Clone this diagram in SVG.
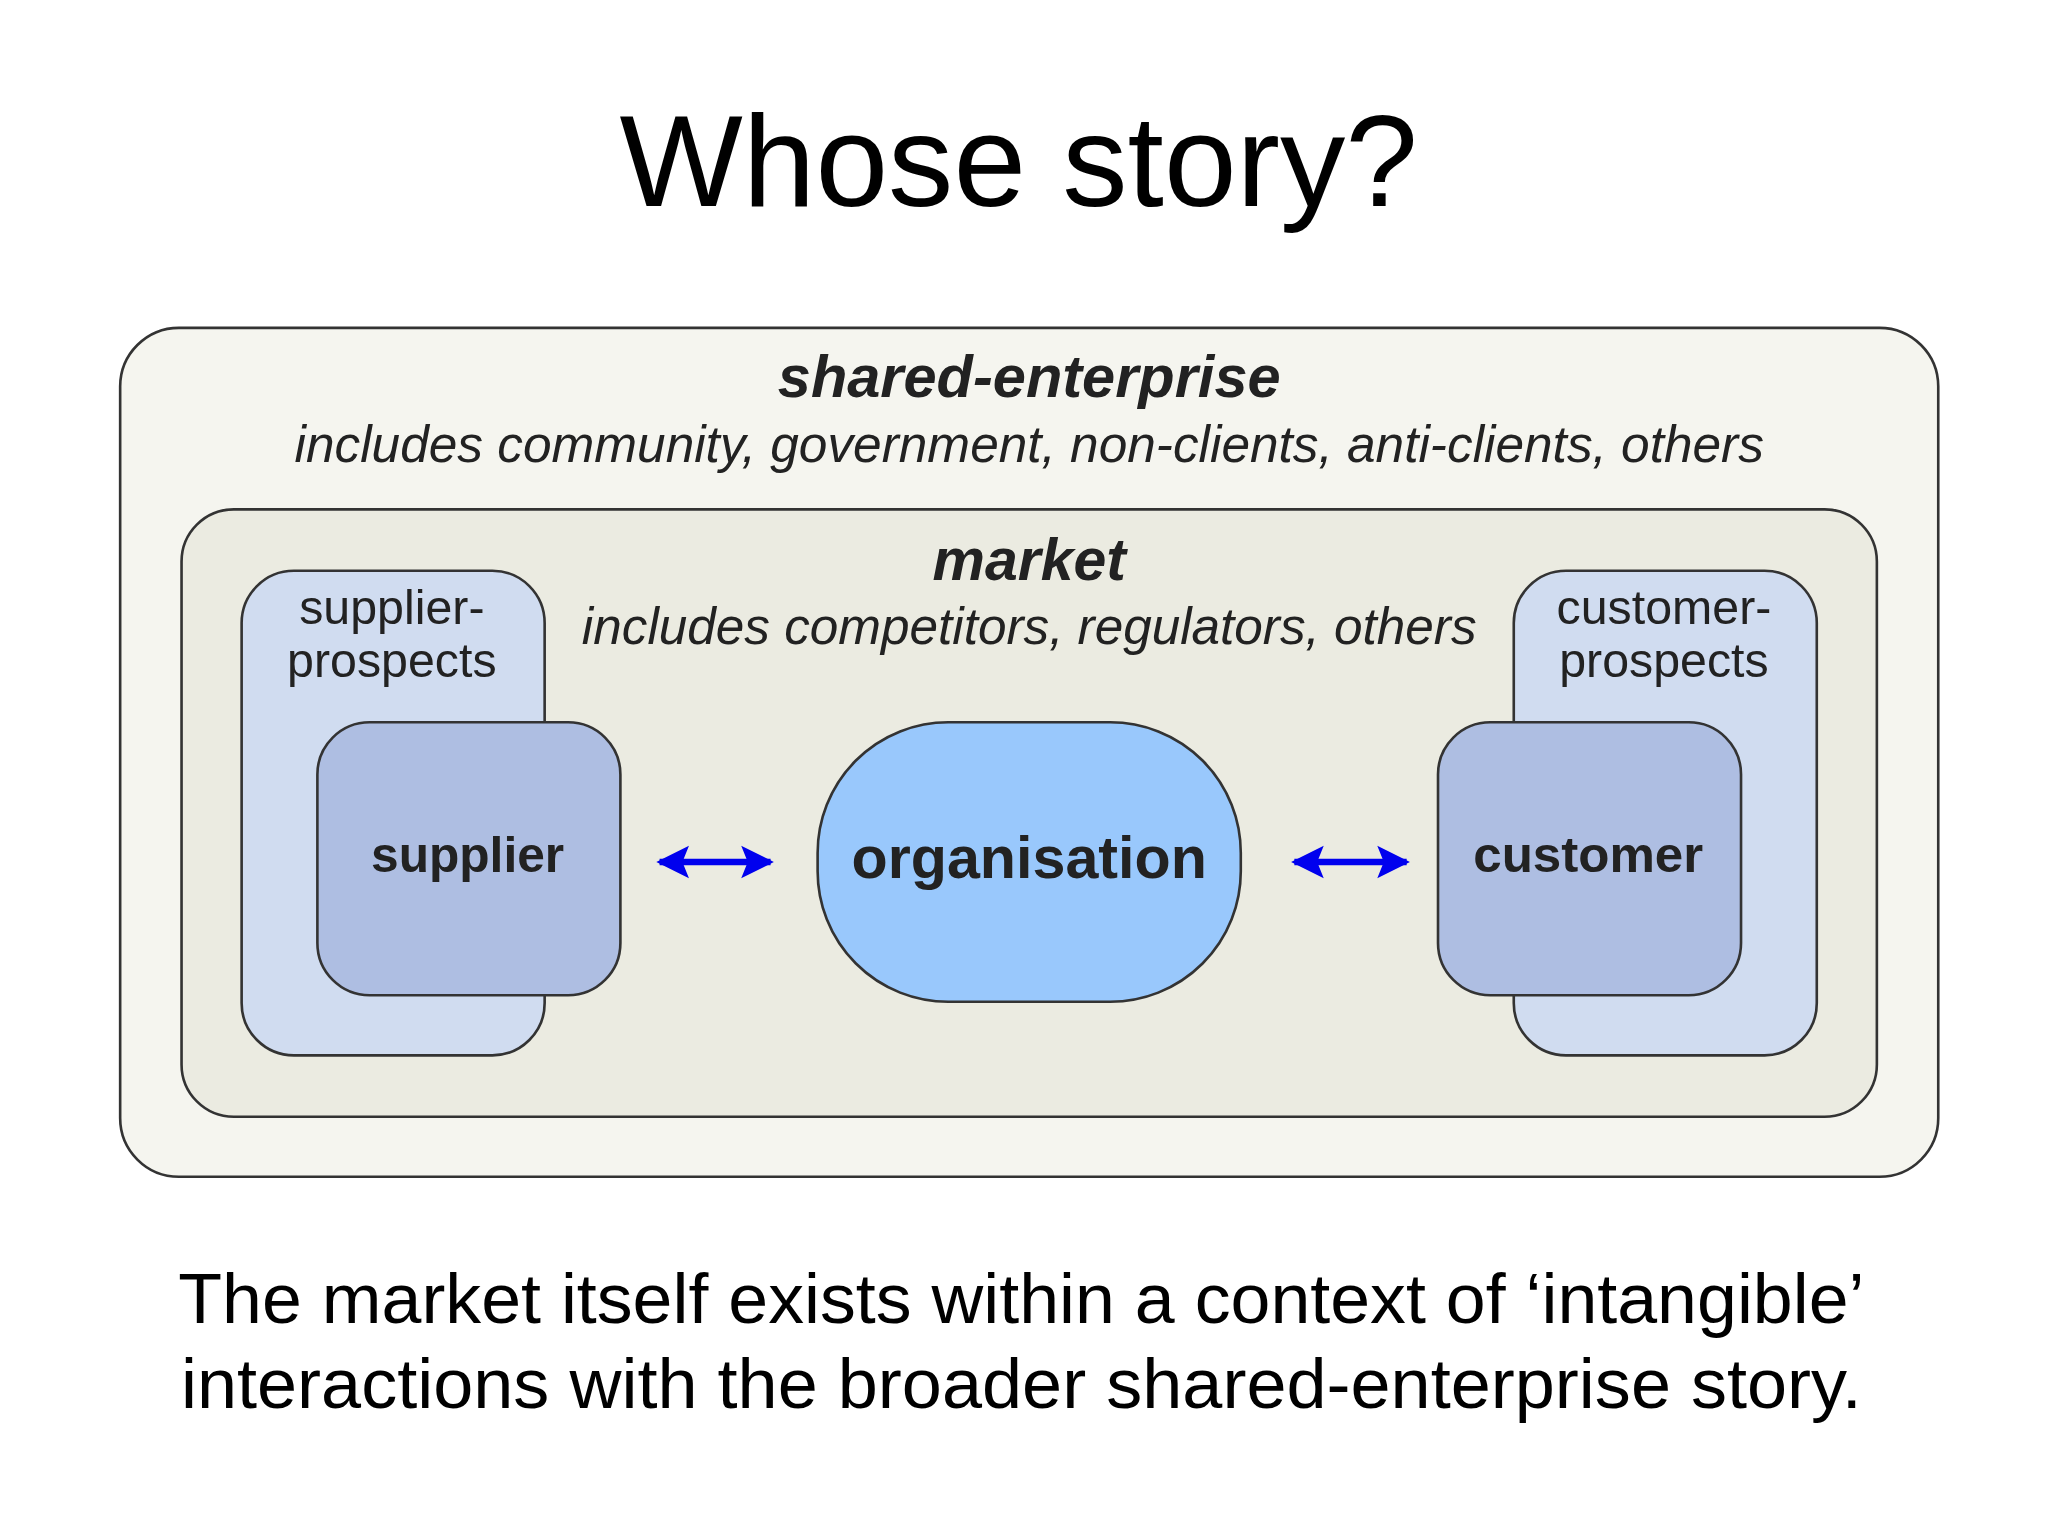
<svg xmlns="http://www.w3.org/2000/svg" width="2048" height="1536" viewBox="0 0 2048 1536">
<defs>
<marker id="ah" viewBox="0 0 10 10" refX="9" refY="5" markerWidth="5" markerHeight="5.5" orient="auto-start-reverse"><path d="M0,0L10,5L0,10L2,5z" fill="#0000ee"/></marker>
</defs>
<style>
text{font-family:"Liberation Sans",Arial,sans-serif;text-anchor:middle;fill:#000}
.d{fill:#222}
.bi{font-weight:bold;font-style:italic;font-size:45px}
.i{font-style:italic;font-size:39px}
.p{font-size:37px}
.b{font-weight:bold;font-size:38px}
.box{stroke:#333;stroke-width:2}
</style>
<rect width="2048" height="1536" fill="#fff"/>
<g transform="scale(1.3061)">
<text x="780" y="158" font-size="100">Whose story?</text>
<g id="shared-enterprise">
<rect class="box" x="92" y="251" width="1392" height="650" rx="45" fill="#f5f5ef" stroke="#666"/>
<text class="bi d" x="788" y="304" textLength="385" lengthAdjust="spacingAndGlyphs">shared-enterprise</text>
<text class="i d" x="788" y="354" textLength="1125" lengthAdjust="spacingAndGlyphs">includes community, government, non-clients, anti-clients, others</text>
</g>
<g id="market">
<rect class="box" x="139" y="390" width="1298" height="465" rx="40" fill="#ebebe1"/>
<text class="bi d" x="788" y="444" textLength="148" lengthAdjust="spacingAndGlyphs">market</text>
<text class="i d" x="788" y="493" textLength="685" lengthAdjust="spacingAndGlyphs">includes competitors, regulators, others</text>
</g>
<g id="supplier-prospects">
<rect class="box" x="185" y="437" width="232" height="371" rx="40" fill="#d0dcf0"/>
<text class="p d" x="300" y="478">supplier-</text>
<text class="p d" x="300" y="518">prospects</text>
</g>
<g id="supplier">
<rect class="box" x="243" y="553" width="232" height="209" rx="40" fill="#aebee2"/>
<text class="b d" x="358" y="668">supplier</text>
</g>
<g id="customer-prospects">
<rect class="box" x="1159" y="437" width="232" height="371" rx="40" fill="#d0dcf0"/>
<text class="p d" x="1274" y="478">customer-</text>
<text class="p d" x="1274" y="518">prospects</text>
</g>
<g id="customer">
<rect class="box" x="1101" y="553" width="232" height="209" rx="40" fill="#aebee2"/>
<text class="b d" x="1216" y="668" textLength="176" lengthAdjust="spacingAndGlyphs">customer</text>
</g>
<g id="organisation">
<rect class="box" x="626" y="553" width="324" height="214" rx="100" fill="#99c8fc"/>
<text class="d" x="788" y="672" font-weight="bold" font-size="45" textLength="272" lengthAdjust="spacingAndGlyphs">organisation</text>
</g>
<g id="connectors" stroke="#0000ee" stroke-width="5" fill="none">
<line x1="505" y1="660" x2="590" y2="660" marker-start="url(#ah)" marker-end="url(#ah)"/>
<line x1="991" y1="660" x2="1077" y2="660" marker-start="url(#ah)" marker-end="url(#ah)"/>
</g>
<text x="782" y="1013" font-size="54" textLength="1291" lengthAdjust="spacingAndGlyphs">The market itself exists within a context of ‘intangible’</text>
<text x="782" y="1078" font-size="54" textLength="1287" lengthAdjust="spacingAndGlyphs">interactions with the broader shared-enterprise story.</text>
</g>
</svg>
